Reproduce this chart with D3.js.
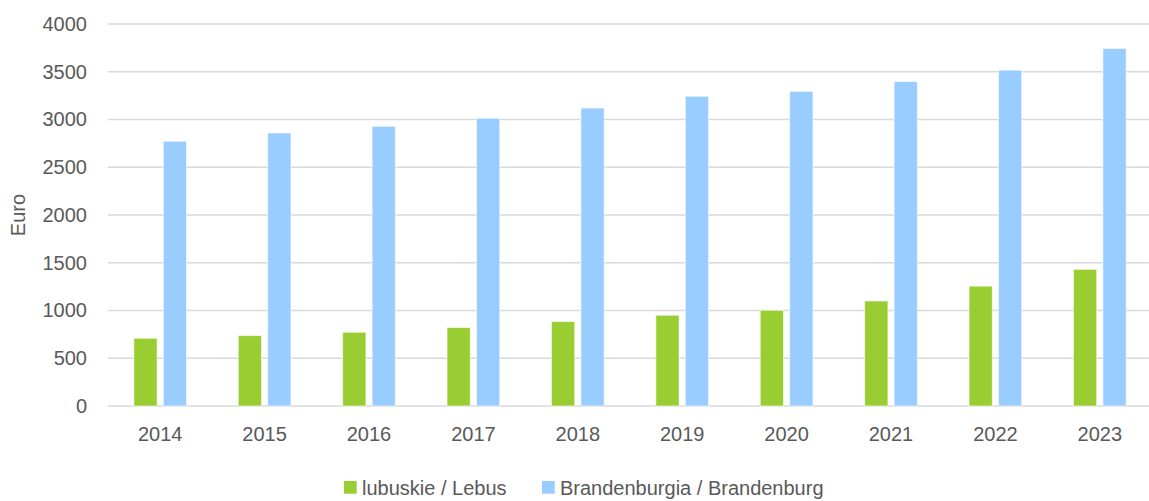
<!DOCTYPE html>
<html>
<head>
<meta charset="utf-8">
<script src="https://cdn.jsdelivr.net/npm/d3@7"></script>
<style>
  html, body { margin: 0; padding: 0; background: #fff; }
  svg text { font-family: "Liberation Sans", Arial, sans-serif; fill: #595959; }
</style>
</head>
<body>
<svg id="chart" width="1149" height="501"></svg>
<script>
// Average monthly gross wage, in euro
const years = ["2014", "2015", "2016", "2017", "2018", "2019", "2020", "2021", "2022", "2023"];
const lebus = [709, 737, 772, 821, 884, 950, 1002, 1100, 1255, 1431];
const brandenburg = [2772, 2859, 2929, 3013, 3120, 3243, 3295, 3397, 3517, 3744];
const seriesNames = ["lubuskie / Lebus", "Brandenburgia / Brandenburg"];
const seriesColors = ["#9acd32", "#99ccff"];
const yTicks = [0, 500, 1000, 1500, 2000, 2500, 3000, 3500, 4000];

const FONT = "20px";
const svg = d3.select("#chart");
const margin = { top: 24, left: 108 };
const plotW = 1044;
const plotH = 382;

const g = svg.append("g").attr("transform", `translate(${margin.left},${margin.top})`);

const x = d3.scaleBand().domain(years).range([0, plotW]).paddingInner(0.495).paddingOuter(0.2475);
const x1 = d3.scaleBand().domain([0, 1]).range([0, x.bandwidth()]).paddingInner(0.21);
const y = d3.scaleLinear().domain([0, 4000]).range([plotH, 0]);

// horizontal gridlines
g.selectAll("line.grid").data(yTicks).enter().append("line")
  .attr("class", "grid")
  .attr("x1", 0).attr("x2", plotW)
  .attr("y1", d => y(d)).attr("y2", d => y(d))
  .attr("stroke", "#d9d9d9").attr("stroke-width", 1.6);

// y axis labels
const yAxis = d3.axisLeft(y).tickValues(yTicks).tickSize(0).tickPadding(21).tickFormat(d3.format("d"));
const ya = g.append("g").call(yAxis);
ya.select(".domain").remove();
ya.selectAll("text").style("font-size", FONT).attr("fill", "#595959");

// x axis labels
const xAxis = d3.axisBottom(x).tickSize(0).tickPadding(21);
const xa = g.append("g").attr("transform", `translate(0,${plotH})`).call(xAxis);
xa.select(".domain").remove();
xa.selectAll("text").style("font-size", FONT).attr("fill", "#595959");

// bars
const rows = years.map((yr, i) => ({ yr, vals: [lebus[i], brandenburg[i]] }));
const groups = g.selectAll("g.year").data(rows).enter().append("g")
  .attr("class", "year")
  .attr("transform", d => `translate(${x(d.yr)},0)`);
groups.selectAll("rect").data(d => d.vals.map((v, k) => ({ v, k }))).enter().append("rect")
  .attr("x", d => x1(d.k))
  .attr("width", x1.bandwidth())
  .attr("y", d => y(d.v))
  .attr("height", d => y(0) - y(d.v))
  .attr("fill", d => seriesColors[d.k])
  .attr("stroke", "#ffffff").attr("stroke-opacity", 0.6).attr("stroke-width", 1);

// y axis title
svg.append("text")
  .attr("transform", `translate(25,${margin.top + plotH / 2}) rotate(-90)`)
  .attr("text-anchor", "middle")
  .style("font-size", FONT)
  .text("Euro");

// legend
const legend = svg.append("g").attr("transform", "translate(344,481)");
const legendOffsets = [0, 198];
seriesNames.forEach((name, k) => {
  const item = legend.append("g").attr("transform", `translate(${legendOffsets[k]},0)`);
  item.append("rect").attr("width", 12.7).attr("height", 12.7).attr("fill", seriesColors[k]);
  item.append("text").attr("x", 18).attr("y", 13.5).style("font-size", FONT).text(name);
});
</script>
</body>
</html>
